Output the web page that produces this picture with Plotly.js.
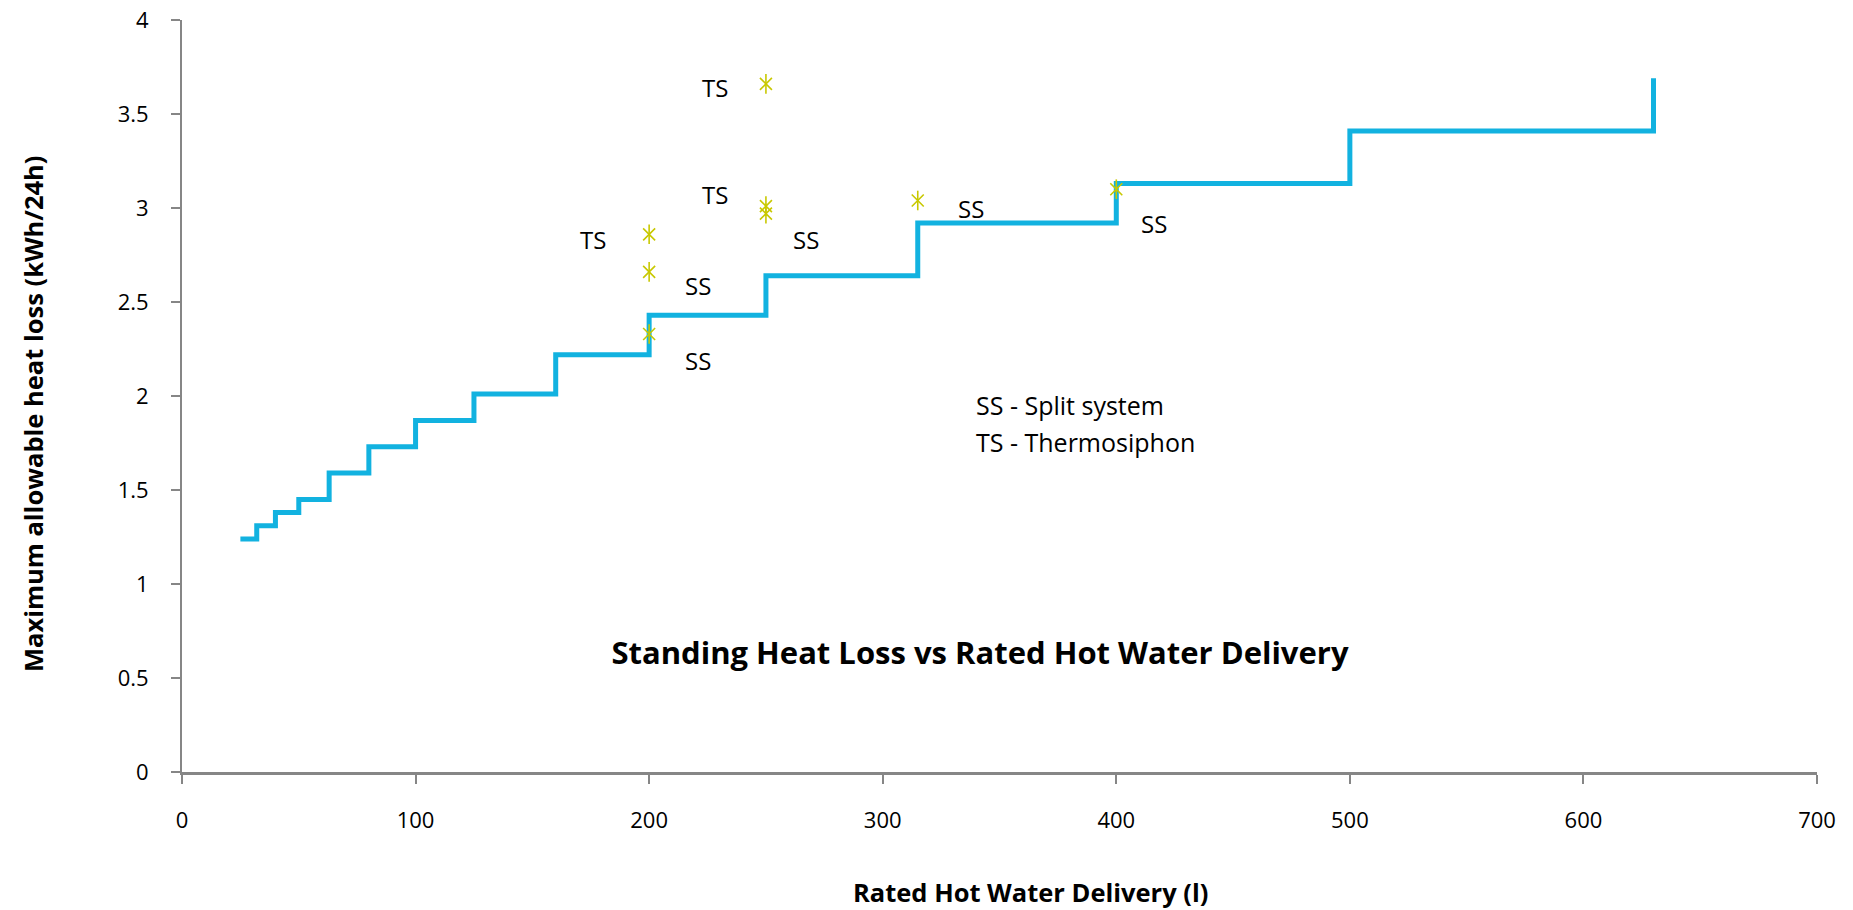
<!DOCTYPE html>
<html>
<head>
<meta charset="utf-8">
<script src="https://cdn.plot.ly/plotly-3.0.1.min.js"></script>
<style>html,body{margin:0;padding:0;background:#fff;}#chart{width:1853px;height:910px;}</style>
</head>
<body>
<div id="chart"></div>
<script>
// Step limit: rated hot water delivery (l) vs max allowable heat loss (kWh/24h)
const stepDelivery = [25, 32, 40, 50, 63, 80, 100, 125, 160, 200, 250, 315, 400, 500, 630];
const stepHeatLoss = [1.24, 1.31, 1.38, 1.45, 1.59, 1.73, 1.87, 2.01, 2.22, 2.43, 2.64, 2.92, 3.13, 3.41, 3.69];

// Measured systems
const pointDelivery = [250, 250, 250, 200, 200, 200, 315, 400];
const pointHeatLoss = [3.66, 3.01, 2.97, 2.86, 2.66, 2.33, 3.04, 3.10];

// Point labels
const labelText = ["TS", "TS", "TS", "SS", "SS", "SS", "SS", "SS"];
const labelX = [228, 228, 176, 267, 221, 221, 338, 416];
const labelY = [3.64, 3.07, 2.83, 2.83, 2.59, 2.19, 3.00, 2.92];

const legendLines = ["SS - Split system", "TS - Thermosiphon"];
const legendX = 339;
const legendY = [1.952, 1.755];

const FONT = "Open Sans, Noto Sans, sans-serif";
const MARKER_COLOR = "#C8C800";

const traces = [
  {
    x: stepDelivery, y: stepHeatLoss, type: "scatter", mode: "lines",
    line: {shape: "hv", color: "#12B2E0", width: 5},
    hoverinfo: "x+y"
  },
  {
    x: pointDelivery, y: pointHeatLoss, type: "scatter", mode: "markers",
    marker: {symbol: "x-thin-open", size: 12, color: MARKER_COLOR, line: {color: MARKER_COLOR, width: 1.6}},
    hoverinfo: "x+y"
  },
  {
    x: pointDelivery, y: pointHeatLoss, type: "scatter", mode: "markers",
    marker: {symbol: "line-ns-open", size: 14, color: MARKER_COLOR, line: {color: MARKER_COLOR, width: 1.6}},
    hoverinfo: "skip"
  }
];

const annotations = labelText.map((t, i) => ({
  x: labelX[i], y: labelY[i], xref: "x", yref: "y", text: t, showarrow: false,
  xanchor: "center", yanchor: "middle", font: {family: FONT, size: 24, color: "#000"}
}));
legendLines.forEach((t, i) => annotations.push({
  x: legendX, y: legendY[i], xref: "x", yref: "y", text: t, showarrow: false,
  xanchor: "left", yanchor: "middle", font: {family: FONT, size: 25, color: "#000"}
}));
// axis titles placed as annotations (paper coords relative to plot area 182..1817 x 20..772)
annotations.push({
  x: (1030 - 182) / 1635, y: (772 - 892) / 752, xref: "paper", yref: "paper",
  text: "<b>Rated Hot Water Delivery (l)</b>", showarrow: false,
  xanchor: "center", yanchor: "middle", font: {family: FONT, size: 25.5, color: "#000"}
});
annotations.push({
  x: (33 - 182) / 1635, y: (772 - 414) / 752, xref: "paper", yref: "paper",
  text: "<b>Maximum allowable heat loss (kWh/24h)</b>", showarrow: false, textangle: -90,
  xanchor: "center", yanchor: "middle", font: {family: FONT, size: 25.5, color: "#000"}
});

const layout = {
  width: 1853, height: 910,
  margin: {l: 182, r: 36, t: 20, b: 138},
  paper_bgcolor: "#fff", plot_bgcolor: "#fff",
  showlegend: false,
  font: {family: FONT, size: 22, color: "#000"},
  title: {
    text: "<b>Standing Heat Loss vs Rated Hot Water Delivery</b>",
    x: 980 / 1853, xref: "container", xanchor: "center",
    y: 1 - 653 / 910, yref: "container", yanchor: "middle",
    font: {family: FONT, size: 31, color: "#000"}
  },
  xaxis: {
    range: [0, 700], tickvals: [0, 100, 200, 300, 400, 500, 600, 700],
    showgrid: false, zeroline: false, showline: true, linecolor: "#868686", linewidth: 3,
    ticks: "outside", ticklen: 9, tickwidth: 1.5, tickcolor: "#868686",
    tickfont: {family: FONT, size: 22, color: "#000"}, ticklabelstandoff: 18
  },
  yaxis: {
    range: [0, 4], tickvals: [0, 0.5, 1, 1.5, 2, 2.5, 3, 3.5, 4],
    showgrid: false, zeroline: false, showline: true, linecolor: "#868686", linewidth: 2,
    ticks: "outside", ticklen: 9, tickwidth: 1.5, tickcolor: "#868686",
    tickfont: {family: FONT, size: 22, color: "#000"}, ticklabelstandoff: 18
  },
  annotations: annotations
};

Plotly.newPlot("chart", traces, layout, {displayModeBar: false, responsive: false});
</script>
</body>
</html>
